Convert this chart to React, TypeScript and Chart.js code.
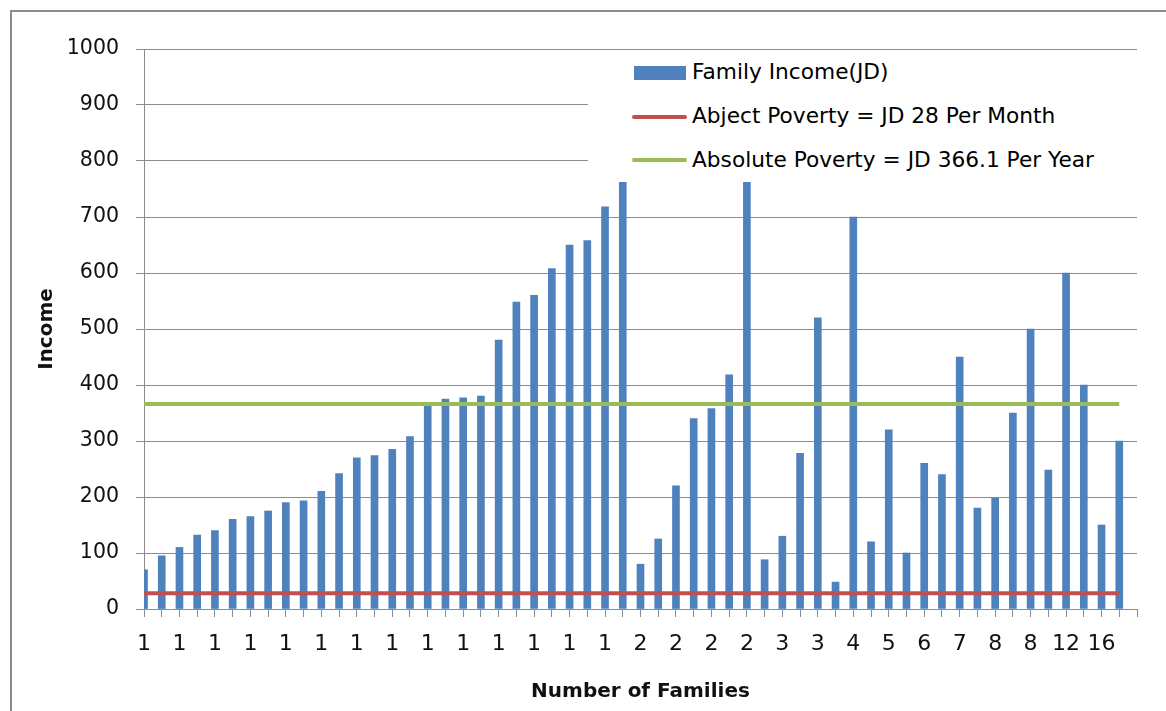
import React, { useEffect, useRef } from 'react';
import { Chart, registerables } from 'chart.js';

Chart.register(...registerables);

// Number of families (category labels). Only every other one is printed on the axis.
const familyLabels = [
  '1', '1', '1', '1', '1', '1', '1', '1', '1', '1', '1', '1', '1', '1',
  '1', '1', '1', '1', '1', '1', '1', '1', '1', '1', '1', '1', '1', '1',
  '2', '2', '2', '2', '2', '2', '2', '3', '3', '3', '3', '4',
  '4', '5', '5', '6', '6', '7', '7', '8', '8', '8', '8', '12',
  '12', '12', '16', '16',
];

// Family income (JD) per bar
const incomeValues = [
  70, 95, 110, 132, 140, 160, 165, 175, 190, 193, 210, 242, 270, 274,
  285, 308, 363, 375, 377, 380, 480, 548, 560, 608, 650, 658, 718, 762,
  80, 125, 220, 340, 358, 418, 762, 88, 130, 278, 520, 48, 700, 120,
  320, 100, 260, 240, 450, 180, 198, 350, 500, 248, 600, 400, 150, 300,
];

const abjectPoverty = 28;
const absolutePoverty = 366.1;

const seriesNames = [
  'Family Income(JD)',
  'Abject Poverty = JD 28 Per Month',
  'Absolute Poverty = JD 366.1 Per Year',
];
const seriesColors = ['#4F81BD', '#C0504D', '#9BBB59'];

const yMin = 0;
const yMax = 1000;
const yStep = 100;

const xTitle = 'Number of Families';
const yTitle = 'Income';

const GRID = '#8c8c8c';
const FONT = 'DejaVu Sans';

export default function App() {
  const ref = useRef<HTMLCanvasElement>(null);

  useEffect(() => {
    const canvas = ref.current;
    if (!canvas) return;
    const labels = [...familyLabels, ''];
    const chart = new Chart(canvas, {
      type: 'bar',
      data: {
        labels,
        datasets: [
          {
            type: 'line',
            label: seriesNames[1],
            data: familyLabels.map(() => abjectPoverty),
            borderColor: seriesColors[1],
            backgroundColor: seriesColors[1],
            borderWidth: 4,
            pointRadius: 0,
            pointHoverRadius: 0,
            fill: false,
            tension: 0,
            order: 0,
          } as any,
          {
            type: 'line',
            label: seriesNames[2],
            data: familyLabels.map(() => absolutePoverty),
            borderColor: seriesColors[2],
            backgroundColor: seriesColors[2],
            borderWidth: 4,
            pointRadius: 0,
            pointHoverRadius: 0,
            fill: false,
            tension: 0,
            order: 0,
          } as any,
          {
            type: 'bar',
            label: seriesNames[0],
            data: incomeValues,
            backgroundColor: seriesColors[0],
            borderWidth: 0,
            barThickness: 7,
            clip: 0,
            order: 1,
          } as any,
        ],
      },
      options: {
        responsive: false,
        animation: false,
        devicePixelRatio: 1,
        layout: { padding: { top: 49, right: 29, left: 0, bottom: 0 } },
        plugins: {
          legend: { display: false },
          tooltip: { enabled: false },
          title: { display: false },
        },
        scales: {
          x: {
            type: 'category',
            offset: false,
            grid: {
              offset: false,
              drawOnChartArea: false,
              drawTicks: true,
              tickLength: 8,
              color: GRID,
            },
            border: { display: true, color: GRID, width: 1 },
            ticks: {
              autoSkip: false,
              maxRotation: 0,
              minRotation: 0,
              padding: 14,
              color: '#111',
              font: { family: FONT, size: 22 },
              callback: (_v: any, i: number) => (i % 2 === 0 ? labels[i] : ''),
            },
            title: {
              display: true,
              text: xTitle,
              color: '#111',
              font: { family: FONT, size: 20, weight: 'bold' },
              padding: { top: 0, bottom: 7 },
            },
            afterFit: (s: any) => {
              s.height = 102;
            },
          },
          y: {
            min: yMin,
            max: yMax,
            ticks: {
              stepSize: yStep,
              padding: 17,
              color: '#111',
              font: { family: FONT, size: 20.5 },
              callback: (v: any) => String(v),
            },
            grid: {
              color: GRID,
              lineWidth: 1,
              tickLength: 8,
              drawTicks: true,
            },
            border: { display: true, color: GRID, width: 1 },
            title: {
              display: true,
              text: yTitle,
              color: '#111',
              font: { family: FONT, size: 20, weight: 'bold' },
              padding: { top: 35, bottom: 0 },
            },
            afterFit: (s: any) => {
              s.width = 144;
            },
          },
        },
      } as any,
    });
    return () => chart.destroy();
  }, []);

  const legendText: React.CSSProperties = {
    position: 'absolute',
    left: 692,
    fontFamily: FONT,
    fontSize: 21.7,
    lineHeight: '24px',
    color: '#000',
    whiteSpace: 'nowrap',
  };

  return (
    <div
      style={{
        position: 'fixed',
        left: 0,
        top: 0,
        width: 1166,
        height: 711,
        overflow: 'hidden',
        background: '#fff',
      }}
    >
      <div
        style={{
          position: 'absolute',
          left: 10,
          top: 10,
          width: 1300,
          height: 900,
          border: '2px solid #8c8c8c',
          boxSizing: 'border-box',
        }}
      />
      <canvas
        ref={ref}
        width={1166}
        height={711}
        style={{ position: 'absolute', left: 0, top: 0, width: 1166, height: 711 }}
      />
      <div
        style={{
          position: 'absolute',
          left: 588,
          top: 54,
          width: 560,
          height: 124,
          background: '#fff',
        }}
      />
      <div
        style={{
          position: 'absolute',
          left: 634,
          top: 66,
          width: 52,
          height: 14,
          background: seriesColors[0],
        }}
      />
      <div style={{ ...legendText, top: 60 }}>{seriesNames[0]}</div>
      <div
        style={{
          position: 'absolute',
          left: 632,
          top: 115,
          width: 55,
          height: 4,
          borderRadius: 2,
          background: seriesColors[1],
        }}
      />
      <div style={{ ...legendText, top: 104 }}>{seriesNames[1]}</div>
      <div
        style={{
          position: 'absolute',
          left: 632,
          top: 158,
          width: 55,
          height: 4,
          borderRadius: 2,
          background: seriesColors[2],
        }}
      />
      <div style={{ ...legendText, top: 148 }}>{seriesNames[2]}</div>
    </div>
  );
}
